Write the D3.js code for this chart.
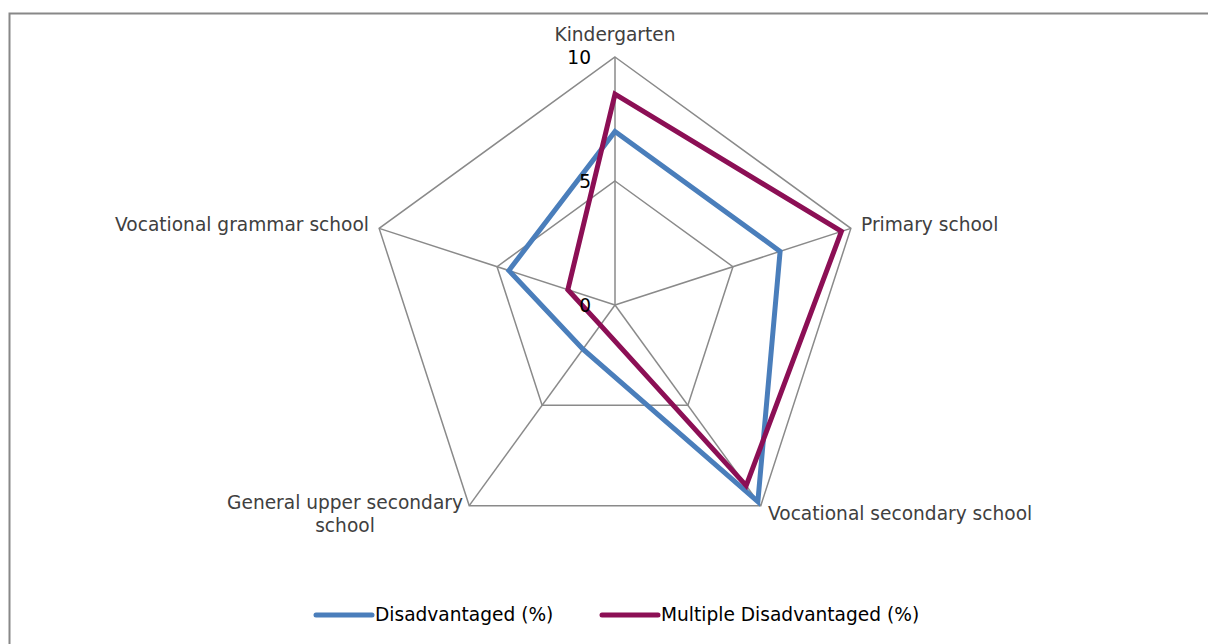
<!DOCTYPE html>
<html>
<head>
<meta charset="utf-8">
<script src="https://cdn.jsdelivr.net/npm/d3@7"></script>
<style>
html,body{margin:0;padding:0;background:#fff;}
svg{display:block;font-family:"DejaVu Sans",Verdana,sans-serif;}
</style>
</head>
<body>
<svg id="chart" width="1208" height="644"></svg>
<script>
const categories = ["Kindergarten", "Primary school", "Vocational secondary school", "General upper secondary school", "Vocational grammar school"];
const disadvantaged = [7.0, 7.0, 9.8, 2.2, 4.5];
const multipleDisadvantaged = [8.5, 9.6, 9.0, 1.0, 2.0];
const tickValues = [0, 5, 10];
const seriesNames = ["Disadvantaged (%)", "Multiple Disadvantaged (%)"];
const seriesColors = ["#4A7EBB", "#8C0F55"];

const svg = d3.select("#chart");
const cx = 615, cy = 305;
const fs = 18.6;

svg.append("rect").attr("x", 9.5).attr("y", 13.5).attr("width", 1220).attr("height", 650)
  .attr("fill", "none").attr("stroke", "#888").attr("stroke-width", 2);

const r = d3.scaleLinear().domain([0, 10]).range([0, 248]);
const angle = d3.scaleLinear().domain([0, categories.length]).range([0, 2 * Math.PI]);
const pt = (i, v) => [cx + r(v) * Math.sin(angle(i)), cy - r(v) * Math.cos(angle(i))];

const g = svg.append("g");
// grid rings
[5, 10].forEach(t => {
  g.append("path")
    .attr("d", d3.line()(categories.map((c, i) => pt(i, t))) + "Z")
    .attr("fill", "none").attr("stroke", "#8a8a8a").attr("stroke-width", 1.5);
});
// spokes
categories.forEach((c, i) => {
  const p = pt(i, 10);
  g.append("line").attr("x1", cx).attr("y1", cy).attr("x2", p[0]).attr("y2", p[1])
    .attr("stroke", "#8a8a8a").attr("stroke-width", 1.5);
});

// series
[disadvantaged, multipleDisadvantaged].forEach((vals, s) => {
  g.append("path")
    .attr("d", d3.line()(vals.map((v, i) => pt(i, v))) + "Z")
    .attr("fill", "none").attr("stroke", seriesColors[s]).attr("stroke-width", 5)
    .attr("stroke-linejoin", "miter");
});

// tick labels
tickValues.forEach(t => {
  g.append("text").attr("x", cx - 24).attr("y", cy - r(t) + 7)
    .attr("text-anchor", "end").attr("font-size", fs).attr("fill", "#000").text(t);
});

// category labels
const labelPos = [
  {x: 615, y: 41, anchor: "middle", lines: ["Kindergarten"]},
  {x: 861, y: 231, anchor: "start", lines: ["Primary school"]},
  {x: 768, y: 520, anchor: "start", lines: ["Vocational secondary school"]},
  {x: 345, y: 509, anchor: "middle", lines: ["General upper secondary", "school"]},
  {x: 369, y: 231, anchor: "end", lines: ["Vocational grammar school"]}
];
categories.forEach((c, i) => {
  const lp = labelPos[i];
  const t = g.append("text").attr("x", lp.x).attr("y", lp.y).attr("text-anchor", lp.anchor)
    .attr("font-size", fs).attr("fill", "#404040");
  lp.lines.forEach((l, k) => t.append("tspan").attr("x", lp.x).attr("dy", k === 0 ? 0 : 23).text(l));
});

// legend
const legX = [316, 602];
seriesNames.forEach((n, s) => {
  svg.append("line").attr("x1", legX[s]).attr("x2", legX[s] + 56).attr("y1", 615).attr("y2", 615)
    .attr("stroke", seriesColors[s]).attr("stroke-width", 5).attr("stroke-linecap", "round");
  svg.append("text").attr("x", legX[s] + 59).attr("y", 621).attr("font-size", fs).attr("fill", "#000").text(n);
});
</script>
</body>
</html>
